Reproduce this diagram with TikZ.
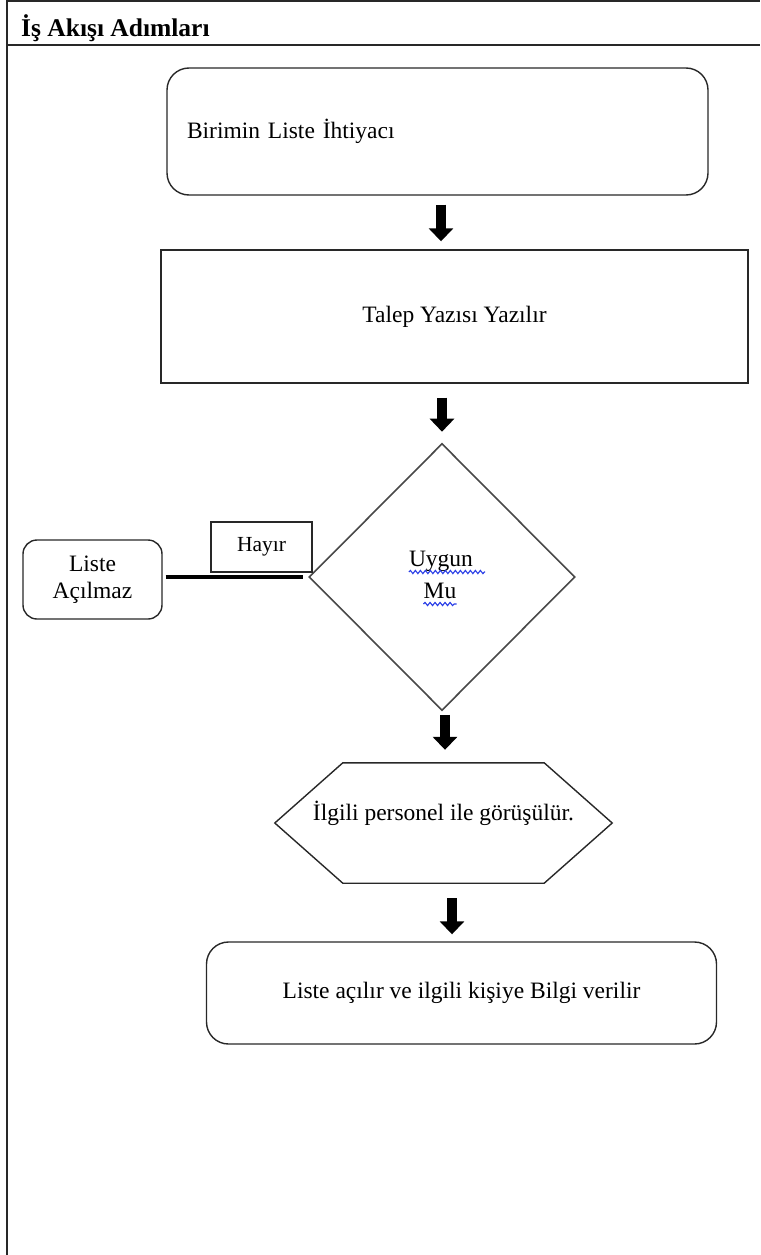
\documentclass[tikz,border=0pt]{standalone}
\usepackage{fontspec}
\setmainfont{Liberation Serif}
\usepackage{tikz}
\usetikzlibrary{calc,arrows.meta,positioning,shapes.geometric,decorations.pathmorphing}
\definecolor{cizgi}{RGB}{40,40,40}
\definecolor{imlamavi}{RGB}{40,60,230}
\tikzset{
  govde/.style    ={font=\fontsize{23.5}{27}\selectfont, text=black},
  yuvarlak/.style ={govde, rectangle, rounded corners=22pt, draw=cizgi, line width=1.4pt, inner sep=0pt},
  islem/.style    ={govde, rectangle, draw=cizgi, line width=1.4pt, inner sep=0pt},
  karar/.style    ={diamond, draw=cizgi!85, line width=1.6pt, inner sep=0pt},
  hayirkutu/.style={rectangle, draw=cizgi, line width=1.4pt, inner sep=0pt,
                    font=\fontsize{21.5}{25}\selectfont},
  altigen/.style  ={draw=cizgi, line width=1.4pt, line join=miter},
  kelime/.style   ={govde, inner sep=0pt},
  kalinok/.style  ={line width=10pt, -{Triangle[length=13pt, width=24pt]}, black},
  hayircizgi/.style={line width=3.5pt, black},
  cerceve/.style  ={line width=2pt, cizgi},
  imla/.style     ={imlamavi, line width=1.1pt, decorate,
                    decoration={snake, amplitude=1.6pt, segment length=5pt}},
}
\begin{document}
\begin{tikzpicture}[x=1pt, y=-1pt]
\useasboundingbox (0,0) rectangle (760,1255);
% cerceve ve baslik
\draw[cerceve] (7,1255) -- (7,1) -- (760,1);
\draw[cerceve] (7,45) -- (760,45);
\node[anchor=base west, inner sep=0pt, font=\fontsize{25.5}{28}\selectfont\bfseries] (baslik) at (21,37) {İş Akışı Adımları};
% adimlar
\node[yuvarlak, minimum width=541pt, minimum height=127pt, text width=501pt, inner xsep=20pt, align=left] (birim) at (437.5,131.5) {Birimin Liste İhtiyacı};
\node[islem, minimum width=587pt, minimum height=133pt] (talep) at (454.5,316.5) {Talep Yazısı Yazılır};
\node[karar, minimum width=266pt, minimum height=267pt] (uygun) at (442,577) {};
\node[kelime, anchor=base] (uygun1) at (441,566) {Uygun};
\node[kelime, anchor=base] (uygun2) at (440,598) {Mu};
\draw[imla] ([yshift=-6pt]uygun1.base west) -- ([yshift=-6pt, xshift=12pt]uygun1.base east);
\draw[imla] ([yshift=-6pt]uygun2.base west) -- ([yshift=-6pt]uygun2.base east);
\node[hayirkutu, minimum width=101pt, minimum height=50pt] (hayir) at (261.5,547) {Hayır};
\node[yuvarlak, rounded corners=14pt, minimum width=139pt, minimum height=79pt, align=center] (acilmaz) at (92.5,579.5) {Liste\\Açılmaz};
\draw[hayircizgi, shorten <=3pt, shorten >=5pt] (acilmaz.east |- uygun.west) -- (uygun.west);
\node[minimum width=337pt, minimum height=120pt, inner sep=0pt] (gorus) at (443.5,823) {};
\draw[altigen] (gorus.west) -- ([xshift=68pt]gorus.north west) -- ([xshift=-68pt]gorus.north east)
  -- (gorus.east) -- ([xshift=-68pt]gorus.south east) -- ([xshift=68pt]gorus.south west) -- cycle;
\node[kelime, anchor=base] (gorusmetin) at (443.5,820) {İlgili personel ile görüşülür.};
\node[yuvarlak, minimum width=510pt, minimum height=102pt] (bilgi) at (461.5,993) {Liste açılır ve ilgili kişiye Bilgi verilir};
% oklar
\coordinate (ok1) at ([xshift=3.5pt]birim.south);
\coordinate (ok3) at ([xshift=3pt]uygun.south);
\coordinate (ok4) at ([xshift=8.5pt]gorus.south);
\draw[kalinok, shorten <=9pt, shorten >=8pt] (ok1) -- (ok1 |- talep.north);
\draw[kalinok, shorten <=14pt, shorten >=11pt] (talep.south -| uygun.north) -- (uygun.north);
\draw[kalinok, shorten <=3.5pt, shorten >=13pt] (ok3) -- (ok3 |- gorus.north);
\draw[kalinok, shorten <=15pt, shorten >=7pt] (ok4) -- (ok4 |- bilgi.north);
\end{tikzpicture}
\end{document}
